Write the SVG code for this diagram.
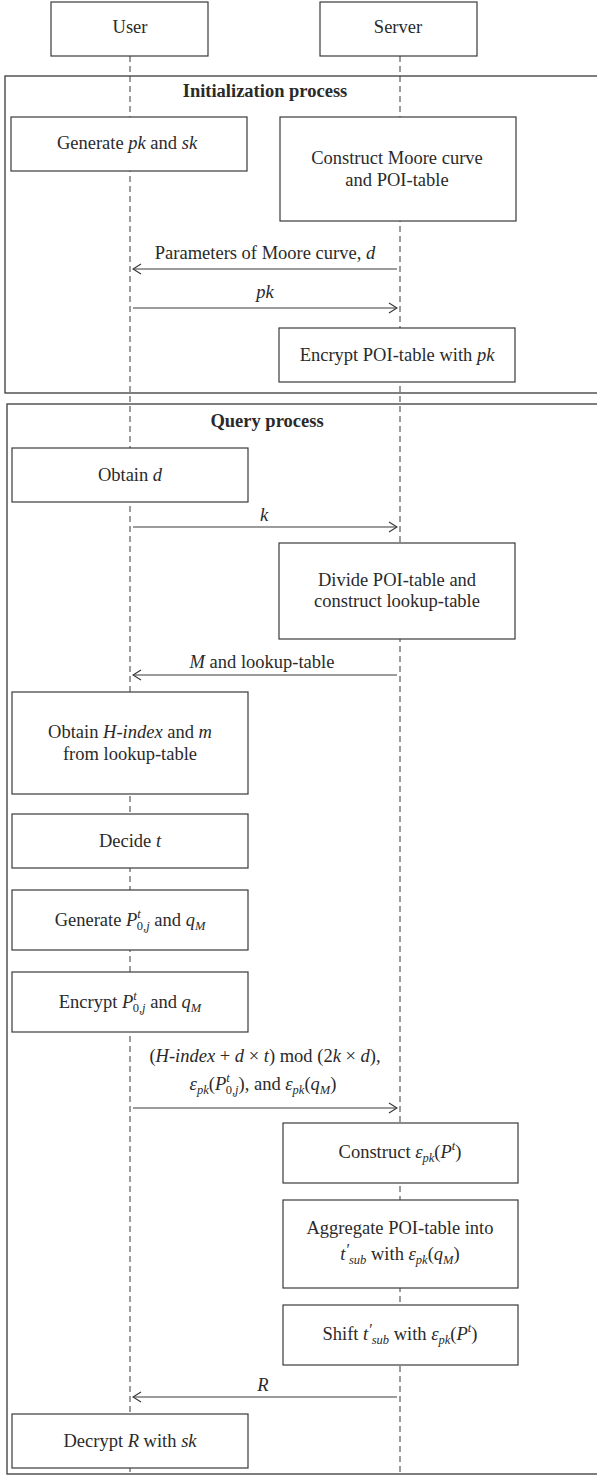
<svg xmlns="http://www.w3.org/2000/svg" width="597" height="1476" viewBox="0 0 597 1476">
<style>
.frame{fill:none;stroke:#3a3a3a;stroke-width:1.3}
.box{fill:#fff;stroke:#3a3a3a;stroke-width:1.2}
.life{stroke:#3a3a3a;stroke-width:1;stroke-dasharray:6 4;fill:none}
.msg{stroke:#3a3a3a;stroke-width:1.2;fill:none;marker-end:url(#arr)}
.t{font-family:"Liberation Serif","DejaVu Serif",serif;font-size:18.5px;fill:#2a2a2a;text-anchor:middle}
.b{font-weight:bold}
.i{font-style:italic}
.s{font-size:12.5px}
.p{font-size:16px}
</style>
<defs>
<marker id="arr" viewBox="0 0 10 12" refX="9" refY="6" markerWidth="10" markerHeight="12" markerUnits="userSpaceOnUse" orient="auto">
<path d="M1,1 L9,6 L1,11" fill="none" stroke="#3a3a3a" stroke-width="1.2"/>
</marker>
</defs>
<rect width="597" height="1476" fill="#fff"/>
<g id="frames">
<rect class="frame" x="5" y="76" width="600" height="317"/>
<text class="t b" x="265" y="97">Initialization process</text>
<rect class="frame" x="7" y="404" width="600" height="1070"/>
<text class="t b" x="267" y="427">Query process</text>
</g>
<g id="lifelines">
<line class="life" x1="130" y1="56" x2="130" y2="1476"/>
<line class="life" x1="400" y1="56" x2="400" y2="1476"/>
</g>
<g id="user"><rect class="box" x="51" y="2" width="157" height="54"/><text class="t" x="130" y="33">User</text></g>
<g id="server"><rect class="box" x="320" y="2" width="157" height="54"/><text class="t" x="398" y="33">Server</text></g>
<g id="gen-keys"><rect class="box" x="11" y="117" width="236" height="54"/><text class="t" x="127" y="149">Generate <tspan class="i">pk</tspan> and <tspan class="i">sk</tspan></text></g>
<g id="construct-moore"><rect class="box" x="280" y="117" width="236" height="104"/><text class="t" x="397" y="164">Construct Moore curve</text><text class="t" x="397" y="186">and POI-table</text></g>
<g id="encrypt-poi"><rect class="box" x="279" y="328" width="236" height="54"/><text class="t" x="397" y="361">Encrypt POI-table with <tspan class="i">pk</tspan></text></g>
<g id="obtain-d"><rect class="box" x="12" y="448" width="236" height="54"/><text class="t" x="130" y="481">Obtain <tspan class="i">d</tspan></text></g>
<g id="divide"><rect class="box" x="279" y="543" width="236" height="96"/><text class="t" x="397" y="586">Divide POI-table and</text><text class="t" x="397" y="607">construct lookup-table</text></g>
<g id="obtain-h"><rect class="box" x="12" y="692" width="236" height="102"/><text class="t" x="130" y="738">Obtain <tspan class="i">H-index</tspan> and <tspan class="i">m</tspan></text><text class="t" x="130" y="760">from lookup-table</text></g>
<g id="decide-t"><rect class="box" x="12" y="814" width="236" height="54"/><text class="t" x="130" y="847">Decide <tspan class="i">t</tspan></text></g>
<g id="gen-p"><rect class="box" x="12" y="890" width="236" height="60"/><text class="t" x="130" y="926">Generate <tspan class="i">P</tspan><tspan class="s i" dy="-8">t</tspan><tspan class="s" dx="-4" dy="12">0,<tspan class="i">j</tspan></tspan><tspan dy="-4"> and </tspan><tspan class="i">q</tspan><tspan class="s i" dy="4">M</tspan></text></g>
<g id="enc-p"><rect class="box" x="12" y="972" width="236" height="60"/><text class="t" x="130" y="1008">Encrypt <tspan class="i">P</tspan><tspan class="s i" dy="-8">t</tspan><tspan class="s" dx="-4" dy="12">0,<tspan class="i">j</tspan></tspan><tspan dy="-4"> and </tspan><tspan class="i">q</tspan><tspan class="s i" dy="4">M</tspan></text></g>
<g id="construct-ept"><rect class="box" x="283" y="1123" width="235" height="60"/><text class="t" x="400" y="1158">Construct <tspan class="i">ε</tspan><tspan class="s i" dy="4">pk</tspan><tspan dy="-4">(</tspan><tspan class="i">P</tspan><tspan class="s i" dy="-8">t</tspan><tspan dy="8">)</tspan></text></g>
<g id="aggregate"><rect class="box" x="283" y="1200" width="235" height="88"/><text class="t" x="400" y="1234">Aggregate POI-table into</text><text class="t" x="400" y="1260"><tspan class="i">t</tspan><tspan class="p i" dy="-5">′</tspan><tspan class="s i" dy="9">sub</tspan><tspan dy="-4"> with </tspan><tspan class="i">ε</tspan><tspan class="s i" dy="4">pk</tspan><tspan dy="-4">(</tspan><tspan class="i">q</tspan><tspan class="s i" dy="4">M</tspan><tspan dy="-4">)</tspan></text></g>
<g id="shift"><rect class="box" x="283" y="1305" width="235" height="60"/><text class="t" x="400" y="1340">Shift <tspan class="i">t</tspan><tspan class="p i" dy="-5">′</tspan><tspan class="s i" dy="9">sub</tspan><tspan dy="-4"> with </tspan><tspan class="i">ε</tspan><tspan class="s i" dy="4">pk</tspan><tspan dy="-4">(</tspan><tspan class="i">P</tspan><tspan class="s i" dy="-8">t</tspan><tspan dy="8">)</tspan></text></g>
<g id="decrypt"><rect class="box" x="12" y="1414" width="236" height="54"/><text class="t" x="130" y="1447">Decrypt <tspan class="i">R</tspan> with <tspan class="i">sk</tspan></text></g>
<g id="connectors">
<line class="msg" x1="397" y1="269" x2="133" y2="269"/>
<text class="t" x="265" y="259">Parameters of Moore curve, <tspan class="i">d</tspan></text>
<line class="msg" x1="133" y1="308" x2="397" y2="308"/>
<text class="t i" x="265" y="298">pk</text>
<line class="msg" x1="133" y1="527" x2="397" y2="527"/>
<text class="t i" x="264" y="521">k</text>
<line class="msg" x1="397" y1="675" x2="133" y2="675"/>
<text class="t" x="262" y="668"><tspan class="i">M</tspan> and lookup-table</text>
<line class="msg" x1="133" y1="1108" x2="397" y2="1108"/>
<text class="t" x="265" y="1062">(<tspan class="i">H-index</tspan> + <tspan class="i">d</tspan> × <tspan class="i">t</tspan>) mod (2<tspan class="i">k</tspan> × <tspan class="i">d</tspan>),</text>
<text class="t" x="263" y="1090"><tspan class="i">ε</tspan><tspan class="s i" dy="4">pk</tspan><tspan dy="-4">(</tspan><tspan class="i">P</tspan><tspan class="s i" dy="-8">t</tspan><tspan class="s" dx="-4" dy="12">0,<tspan class="i">j</tspan></tspan><tspan dy="-4">), and </tspan><tspan class="i">ε</tspan><tspan class="s i" dy="4">pk</tspan><tspan dy="-4">(</tspan><tspan class="i">q</tspan><tspan class="s i" dy="4">M</tspan><tspan dy="-4">)</tspan></text>
<line class="msg" x1="397" y1="1397" x2="133" y2="1397"/>
<text class="t i" x="263" y="1391">R</text>
</g>
</svg>
